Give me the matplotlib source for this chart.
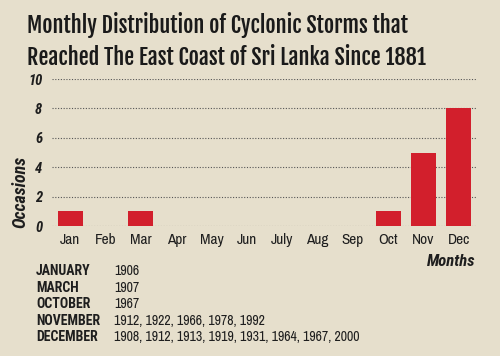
import matplotlib.pyplot as plt

months = ['Jan', 'Feb', 'Mar', 'Apr', 'May', 'Jun', 'July', 'Aug', 'Sep', 'Oct', 'Nov', 'Dec']
occasions = [1, 0, 1, 0, 0, 0, 0, 0, 0, 1, 5, 8]
yticks = [0, 2, 4, 6, 8, 10]

table_months = ['JANUARY', 'MARCH', 'OCTOBER', 'NOVEMBER', 'DECEMBER']
table_years = ['1906', '1907', '1967',
               '1912, 1922, 1966, 1978, 1992',
               '1908, 1912, 1913, 1919, 1931, 1964, 1967, 2000']

bg = '#e6dfcc'
red = '#d21f2c'
ink = '#1e1e1e'

title_font = ['Fjalla One', 'Oswald', 'DejaVu Sans']
narrow = ['Archivo Narrow', 'Roboto Condensed', 'DejaVu Sans']
cond = ['Roboto Condensed', 'DejaVu Sans']

fig = plt.figure(figsize=(5, 3.56), dpi=100, facecolor=bg)
ax = fig.add_axes([0.104, 0.365, 0.848, 0.413])
ax.set_facecolor(bg)

x = range(len(months))
ax.bar(x, occasions, width=0.71, color=red, zorder=3)

ax.set_xlim(-0.52, 11.49)
ax.set_ylim(0, 10)
ax.set_yticks(yticks)
ax.set_xticks(list(x))
ax.set_xticklabels(months, family=narrow, fontsize=11, color=ink)
ax.set_yticklabels([str(v) for v in yticks], family=cond, fontsize=10.5, fontweight='bold',
                   fontstyle='italic', color=ink)
ax.tick_params(length=0)
ax.tick_params(axis='x', pad=5)
ax.tick_params(axis='y', pad=7)
ax.grid(axis='y', linestyle=(0, (1, 1.5)), color='#555555', linewidth=0.8, zorder=0)
for s in ax.spines.values():
    s.set_visible(False)

ax.set_ylabel('Occasions', family=cond, fontsize=13, fontweight='bold', fontstyle='italic',
              color=ink, va='center')
ax.yaxis.set_label_coords(-0.075, 0.23)
ax.text(1.0, -0.24, 'Months', transform=ax.transAxes, ha='right', va='center',
        family=cond, fontsize=12, fontweight='bold', fontstyle='italic', color=ink)

fig.text(0.054, 0.907, 'Monthly Distribution of Cyclonic Storms that', family=title_font,
         fontsize=16, color='#1a1a1a', va='baseline')
fig.text(0.054, 0.817, 'Reached The East Coast of Sri Lanka Since 1881', family=title_font,
         fontsize=16, color='#1a1a1a', va='baseline')

for i, (m, yrs) in enumerate(zip(table_months, table_years)):
    yy = 271 + i * 16.6
    fig.text(36 / 500, 1 - yy / 356, m, fontsize=10, fontweight='bold', va='center',
             family=cond, color=ink)
    fig.text(114 / 500, 1 - yy / 356, yrs, fontsize=10, va='center',
             family=narrow, color=ink)

fig.savefig('out.png', dpi=100, facecolor=bg)
